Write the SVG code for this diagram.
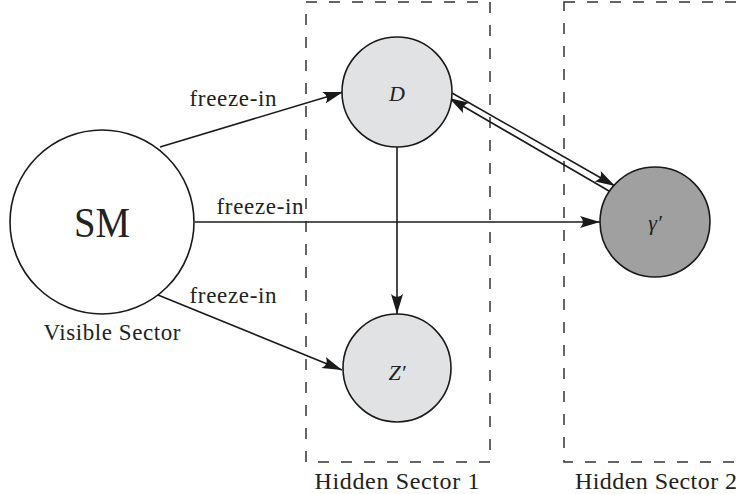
<svg xmlns="http://www.w3.org/2000/svg" width="743" height="494" viewBox="0 0 743 494">
  <style>
    .sector { fill: none; stroke: #333; stroke-width: 1.5; stroke-dasharray: 11 12; }
    .node { stroke: #1a1a1a; stroke-width: 1.6; }
    .edge { fill: none; stroke: #1a1a1a; stroke-width: 1.6; marker-end: url(#tip); }
    .lbl { font-family: "Liberation Serif", "DejaVu Serif", serif; fill: #222; text-anchor: middle; }
    .math { font-family: "Liberation Serif", "DejaVu Serif", serif; font-style: italic; fill: #222; text-anchor: middle; dominant-baseline: central; }
  </style>
  <defs>
    <marker id="tip" viewBox="0 0 20 12" refX="20" refY="6" markerWidth="20" markerHeight="12" markerUnits="userSpaceOnUse" orient="auto">
      <path d="M20 6 L0 0 Q6 6 0 12 Z" fill="#1a1a1a"/>
    </marker>
  </defs>

  <!-- sector boxes -->
  <g id="sector1">
    <rect class="sector" x="306" y="2" width="184" height="460"/>
    <text class="lbl" x="397" y="489" font-size="24" textLength="165" lengthAdjust="spacing">Hidden Sector 1</text>
  </g>
  <g id="sector2">
    <rect class="sector" x="564" y="2" width="200" height="460"/>
    <text class="lbl" x="656" y="489" font-size="24" textLength="162" lengthAdjust="spacing">Hidden Sector 2</text>
  </g>

  <!-- connectors -->
  <g id="connectors">
    <line class="edge" x1="160" y1="147" x2="343" y2="92"/>
    <line class="edge" x1="195" y1="222" x2="600" y2="222"/>
    <line class="edge" x1="158" y1="295" x2="342" y2="370"/>
    <line class="edge" x1="397" y1="147" x2="397" y2="314"/>
    <line class="edge" x1="452" y1="93" x2="615" y2="186"/>
    <line class="edge" x1="609" y1="191" x2="449" y2="98"/>
    <text class="lbl" x="233" y="106" font-size="23" textLength="87" lengthAdjust="spacing">freeze-in</text>
    <text class="lbl" x="260" y="214" font-size="23" textLength="87" lengthAdjust="spacing">freeze-in</text>
    <text class="lbl" x="233" y="303" font-size="23" textLength="87" lengthAdjust="spacing">freeze-in</text>
  </g>

  <!-- nodes -->
  <g id="SM">
    <circle class="node" cx="102" cy="222" r="92" fill="#fff"/>
    <text class="lbl" x="102" y="237" font-size="42" textLength="56" lengthAdjust="spacingAndGlyphs">SM</text>
    <text class="lbl" x="112" y="340" font-size="23" textLength="137" lengthAdjust="spacing">Visible Sector</text>
  </g>
  <g id="D">
    <circle class="node" cx="397" cy="92" r="55" fill="#e1e2e4"/>
    <text class="math" x="397" y="93" font-size="22">D</text>
  </g>
  <g id="Zprime">
    <circle class="node" cx="397" cy="368" r="54" fill="#e1e2e4"/>
    <text class="math" x="397" y="372" font-size="22">Z′</text>
  </g>
  <g id="gammaprime">
    <circle class="node" cx="655" cy="222" r="55" fill="#a0a0a0"/>
    <text class="math" x="655" y="222" font-size="22">γ′</text>
  </g>
</svg>
